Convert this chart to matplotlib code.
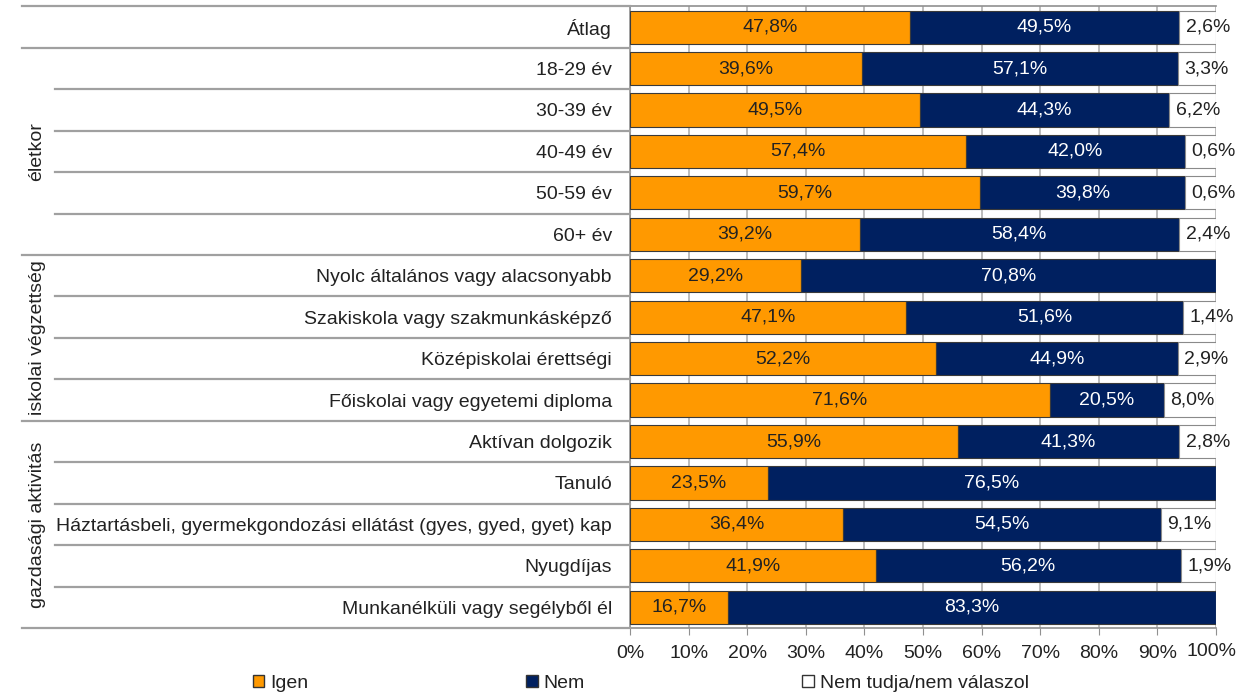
import matplotlib
matplotlib.use("Agg")
import matplotlib.pyplot as plt
from matplotlib.patches import Patch

plt.rcParams["font.family"] = ["Liberation Sans", "DejaVu Sans"]

categories = [
    "Átlag",
    "18-29 év",
    "30-39 év",
    "40-49 év",
    "50-59 év",
    "60+ év",
    "Nyolc általános vagy alacsonyabb",
    "Szakiskola vagy szakmunkásképző",
    "Középiskolai érettségi",
    "Főiskolai vagy egyetemi diploma",
    "Aktívan dolgozik",
    "Tanuló",
    "Háztartásbeli, gyermekgondozási ellátást (gyes, gyed, gyet) kap",
    "Nyugdíjas",
    "Munkanélküli vagy segélyből él",
]
igen = [47.8, 39.6, 49.5, 57.4, 59.7, 39.2, 29.2, 47.1, 52.2, 71.6, 55.9, 23.5, 36.4, 41.9, 16.7]
nem = [49.5, 57.1, 44.3, 42.0, 39.8, 58.4, 70.8, 51.6, 44.9, 20.5, 41.3, 76.5, 54.5, 56.2, 83.3]
nem_tudja = [2.6, 3.3, 6.2, 0.6, 0.6, 2.4, 0.0, 1.4, 2.9, 8.0, 2.8, 0.0, 9.1, 1.9, 0.0]
# width of the white segment as it is drawn in the original chart (wider than its label)
nem_tudja_bar = [6.3, 6.5, 8.0, 5.3, 5.3, 6.3, 0.0, 5.6, 6.5, 8.9, 6.3, 0.0, 9.4, 6.0, 0.0]
series_names = ["Igen", "Nem", "Nem tudja/nem válaszol"]
ticks = list(range(0, 101, 10))

# groups: (label, first row, last row)
groups = [("életkor", 1, 5), ("iskolai végzettség", 6, 9), ("gazdasági aktivitás", 10, 14)]
group_bounds = [-0.5, 0.5, 5.5, 9.5, 14.5]

ORANGE = "#FF9900"
NAVY = "#002060"
TXT = "#222222"
FS = 14

fig = plt.figure(figsize=(12.37, 6.93), dpi=100)
ax = fig.add_axes([0.5093, 0.0938, 0.4737, 0.897])

y = list(range(len(categories)))
h = 0.8
left3 = [100 - w for w in nem_tudja_bar]
nem_w = [l - a for l, a in zip(left3, igen)]

ax.barh(y, igen, height=h, color=ORANGE, edgecolor="#3a3a3a", linewidth=0.8, zorder=3)
ax.barh(y, nem_w, left=igen, height=h, color=NAVY, edgecolor="#3a3a3a", linewidth=0.8, zorder=3)
ax.barh(y, nem_tudja_bar, left=left3, height=h, color="white", edgecolor="#8a8a8a",
        linewidth=0.8, zorder=3)

for i in y:
    ax.text(igen[i] / 2, i, f"{igen[i]:.1f}%".replace(".", ","), ha="center", va="center",
            fontsize=FS, color=TXT, zorder=4)
    ax.text(igen[i] + nem_w[i] / 2, i, f"{nem[i]:.1f}%".replace(".", ","), ha="center",
            va="center", fontsize=FS, color="white", zorder=4)
    if nem_tudja[i] > 0:
        ax.text(left3[i] + 1.1, i, f"{nem_tudja[i]:.1f}%".replace(".", ","), ha="left",
                va="center", fontsize=FS, color=TXT, zorder=4, clip_on=False)

ax.set_xlim(0, 100)
ax.set_ylim(14.5, -0.5)
ax.set_xticks(ticks)
# last label drawn by hand, nudged left so it stays inside the picture
ax.set_xticklabels([f"{t}%" for t in ticks[:-1]] + [""], fontsize=FS, color=TXT)
ax.annotate(f"{ticks[-1]}%", xy=(ticks[-1], 0), xycoords=("data", "axes fraction"),
            xytext=(-3, -10.6), textcoords="offset points", ha="center", va="top",
            fontsize=FS, color=TXT)
ax.set_yticks(y)
ax.set_yticklabels(categories, fontsize=FS, color=TXT)
ax.tick_params(axis="y", length=0, pad=13)
ax.tick_params(axis="x", length=5, color="#909090", pad=7)
ax.grid(axis="x", color="#b0b0b0", linewidth=1.2, zorder=0)
ax.set_axisbelow(True)
for s in ["left", "bottom", "top"]:
    ax.spines[s].set_color("#909090")
    ax.spines[s].set_linewidth(1.2)
ax.spines["right"].set_visible(False)

# row separators in the label area
tr = ax.get_yaxis_transform()
x_group = (22 - 630) / 586
x_inner = (55 - 630) / 586
for b in [i + 0.5 for i in range(-1, len(categories))]:
    x0 = x_group if b in group_bounds else x_inner
    ax.plot([x0, 0], [b, b], color="#a0a0a0", linewidth=1.6, transform=tr, clip_on=False, zorder=5)

for name, a, b in groups:
    ax.text((37 - 630) / 586, (a + b) / 2, name, rotation=90, ha="center", va="center",
            fontsize=FS, color=TXT, transform=tr)

handles = [Patch(facecolor=ORANGE, edgecolor="#333333"),
           Patch(facecolor=NAVY, edgecolor="#333333"),
           Patch(facecolor="white", edgecolor="#333333")]
fig.legend(handles, series_names, loc="center", bbox_to_anchor=(0.518, 0.0144), ncol=3,
           frameon=False, fontsize=FS, handlelength=0.6, handleheight=0.6, handletextpad=0.3,
           columnspacing=11.2, labelcolor=TXT)

fig.savefig("out.png", dpi=100)
